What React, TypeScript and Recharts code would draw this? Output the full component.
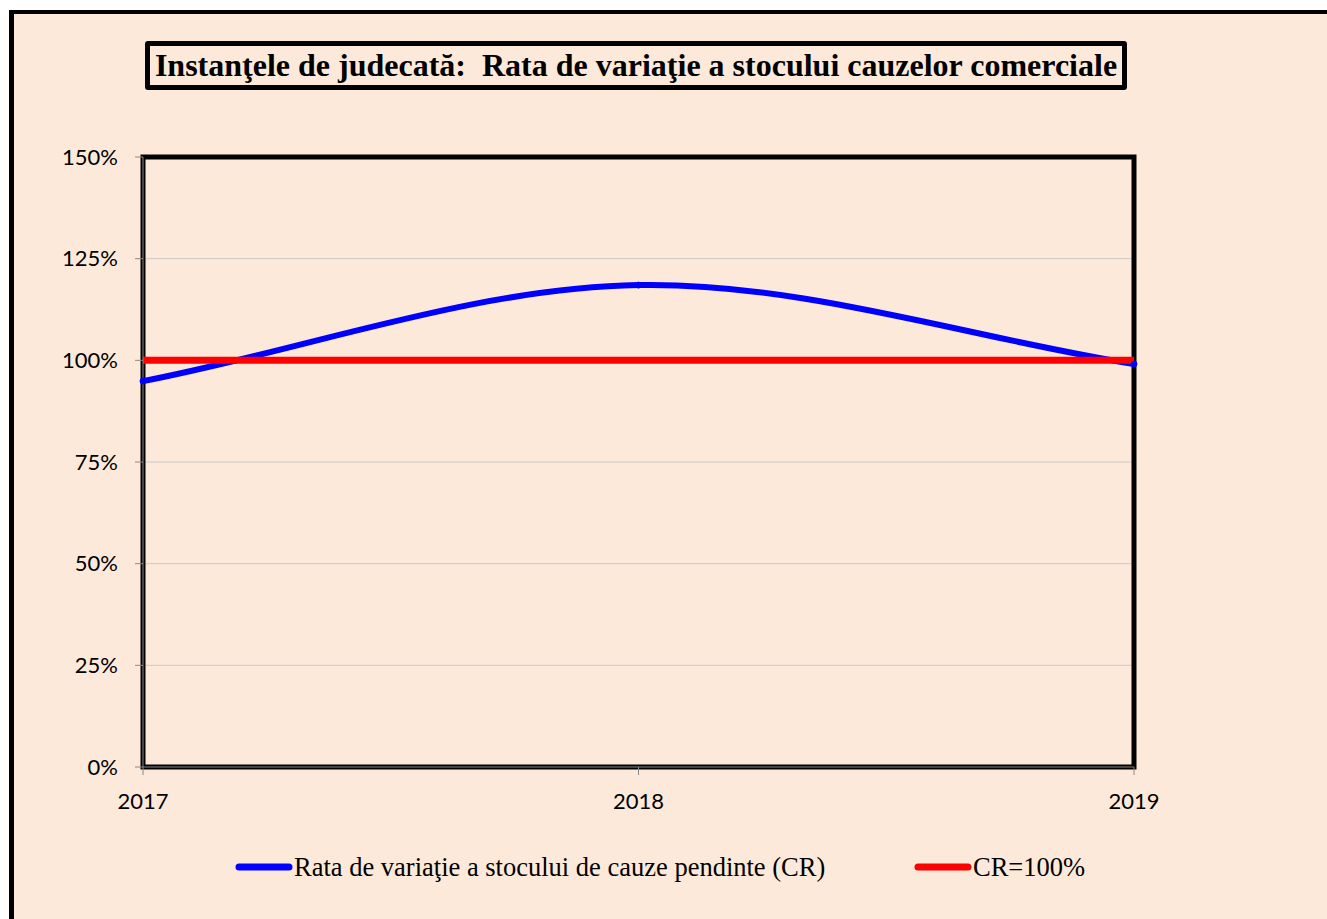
import {
  LineChart,
  Line,
  XAxis,
  YAxis,
  CartesianGrid,
  ReferenceArea,
} from 'recharts';

// ani si valori (in %)
const years = [2017, 2018, 2019];
const rataValues = [94.9, 118.5, 99.1];
const crValues = [100, 100, 100];
const yTicks = [0, 25, 50, 75, 100, 125, 150];

const rataName = 'Rata de variaţie a stocului de cauze pendinte (CR)';
const crName = 'CR=100%';
const title = 'Instanţele de judecată:  Rata de variaţie a stocului cauzelor comerciale';

const BG = '#fde9d9';
const BLUE = '#0000ff';
const RED = '#ff0000';

const chartData = years.map((year, i) => ({
  year,
  rata: rataValues[i],
  cr: crValues[i],
}));

// curba netezita in stil Excel (Bezier cu tangente Catmull-Rom)
const excelSmooth = (context: any) => {
  let pts: [number, number][] = [];
  return {
    areaStart() {},
    areaEnd() {},
    lineStart() {
      pts = [];
    },
    point(x: number, y: number) {
      pts.push([+x, +y]);
    },
    lineEnd() {
      const n = pts.length;
      if (!n) return;
      context.moveTo(pts[0][0], pts[0][1]);
      if (n === 1) return;
      const tan = (i: number): [number, number] => {
        const a = pts[Math.max(0, i - 1)];
        const b = pts[Math.min(n - 1, i + 1)];
        const k = i === 0 || i === n - 1 ? 1 : 0.5;
        return [(b[0] - a[0]) * k, (b[1] - a[1]) * k];
      };
      for (let i = 0; i < n - 1; i++) {
        const t0 = tan(i);
        const t1 = tan(i + 1);
        const p0 = pts[i];
        const p1 = pts[i + 1];
        context.bezierCurveTo(
          p0[0] + t0[0] / 3,
          p0[1] + t0[1] / 3,
          p1[0] - t1[0] / 3,
          p1[1] - t1[1] / 3,
          p1[0],
          p1[1]
        );
      }
    },
  };
};

const tickFont = { fontFamily: 'Lato, "Open Sans", sans-serif', fontSize: 22, fill: '#000' };

const LegendItem = ({ color, label, left, dot }: { color: string; label: string; left: number; dot?: boolean }) => (
  <div style={{ position: 'absolute', left, top: 850, display: 'flex', alignItems: 'center', height: 34 }}>
    <svg width={58} height={14} style={{ display: 'block' }}>
      <line x1={4} y1={7} x2={54} y2={7} stroke={color} strokeWidth={7} strokeLinecap="round" />
      {dot && <circle cx={29} cy={7} r={3} fill={color} />}
    </svg>
    <span style={{ fontFamily: '"Liberation Serif", "Times New Roman", serif', fontSize: 26.5, color: '#000', marginLeft: 1 }}>
      {label}
    </span>
  </div>
);

export default function App() {
  return (
    <div style={{ position: 'absolute', left: 0, top: 0, width: 1327, height: 919, background: '#fff', overflow: 'hidden' }}>
      <div
        style={{
          position: 'absolute',
          left: 9,
          top: 10,
          width: 1327,
          height: 919,
          background: BG,
          borderLeft: '5px solid #000',
          borderTop: '4px solid #000',
        }}
      />
      <div style={{ position: 'absolute', left: 0, top: 0 }}>
        <LineChart width={1327} height={919} data={chartData} margin={{ top: 157, right: 193, bottom: 112, left: 43 }}>
          <CartesianGrid vertical={false} stroke="#c9c9c9" strokeWidth={1} />
          <XAxis
            dataKey="year"
            type="number"
            domain={[2017, 2019]}
            ticks={years}
            height={40}
            tick={tickFont}
            tickSize={8}
            tickMargin={18}
            axisLine={{ stroke: '#888' }}
            tickLine={{ stroke: '#888' }}
          />
          <YAxis
            domain={[0, 150]}
            ticks={yTicks}
            width={100}
            tick={tickFont}
            tickFormatter={v => `${v}%`}
            tickSize={8}
            tickMargin={17}
            axisLine={{ stroke: '#888' }}
            tickLine={{ stroke: '#888' }}
          />
          <Line
            type={excelSmooth as any}
            dataKey="rata"
            name={rataName}
            stroke={BLUE}
            strokeWidth={6}
            dot={{ r: 3, fill: BLUE, stroke: BLUE, strokeWidth: 1 }}
            isAnimationActive={false}
          />
          <Line
            type="linear"
            dataKey="cr"
            name={crName}
            stroke={RED}
            strokeWidth={7}
            dot={false}
            isAnimationActive={false}
          />
          <ReferenceArea
            x1={2017}
            x2={2019}
            y1={0}
            y2={150}
            fill="none"
            stroke="#000"
            strokeWidth={5}
            ifOverflow="visible"
          />
        </LineChart>
      </div>
      <div
        style={{
          position: 'absolute',
          left: 145,
          top: 41,
          width: 982,
          height: 49,
          boxSizing: 'border-box',
          border: '5px solid #000',
          borderRadius: 3,
          display: 'flex',
          alignItems: 'center',
          justifyContent: 'center',
          fontFamily: '"Liberation Serif", "Times New Roman", serif',
          fontWeight: 'bold',
          fontSize: 32,
          whiteSpace: 'pre',
          color: '#000',
        }}
      >
        {title}
      </div>
      <LegendItem color={BLUE} label={rataName} left={235} dot />
      <LegendItem color={RED} label={crName} left={914} />
    </div>
  );
}
